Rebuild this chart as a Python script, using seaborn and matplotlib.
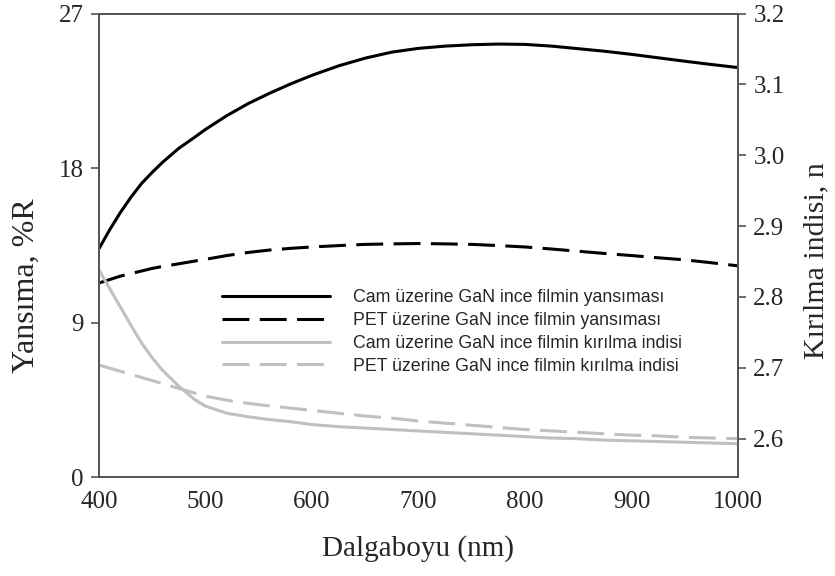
import numpy as np
import pandas as pd
import matplotlib
matplotlib.use("Agg")
import matplotlib.pyplot as plt
import seaborn as sns

# ---- data ----
wl_R = [400, 410, 420, 430, 440, 450, 460, 475, 490, 500, 520, 540, 560, 580, 600, 625, 650,
        675, 700, 725, 750, 775, 800, 825, 850, 875, 900, 925, 950, 975, 1000]
cam_R = [13.3, 14.4, 15.4, 16.3, 17.1, 17.75, 18.35, 19.15, 19.8, 20.25, 21.05, 21.75, 22.35,
         22.9, 23.4, 23.95, 24.4, 24.75, 24.97, 25.1, 25.18, 25.22, 25.2, 25.1, 24.95, 24.8,
         24.62, 24.42, 24.22, 24.03, 23.85]
pet_R = [11.3, 11.5, 11.7, 11.85, 12.0, 12.15, 12.27, 12.42, 12.58, 12.68, 12.9, 13.08, 13.22,
         13.32, 13.4, 13.48, 13.55, 13.58, 13.6, 13.58, 13.55, 13.48, 13.4, 13.28, 13.15, 13.02,
         12.9, 12.77, 12.65, 12.48, 12.3]

wl_cam_n = [400, 410, 420, 430, 440, 450, 460, 475, 490, 500, 520, 540, 560, 580, 600, 625,
            650, 675, 700, 725, 750, 775, 800, 825, 850, 875, 900, 925, 950, 975, 1000]
cam_n = [2.838, 2.812, 2.786, 2.760, 2.735, 2.714, 2.696, 2.674, 2.655, 2.646, 2.636, 2.631,
         2.627, 2.624, 2.620, 2.617, 2.615, 2.613, 2.611, 2.609, 2.607, 2.605, 2.603, 2.601,
         2.600, 2.598, 2.597, 2.596, 2.595, 2.594, 2.593]

wl_pet_n = [400, 425, 450, 475, 500, 525, 550, 575, 600, 625, 650, 675, 700, 725, 750, 775,
            800, 825, 850, 875, 900, 925, 950, 975, 1000]
pet_n = [2.704, 2.693, 2.682, 2.671, 2.660, 2.653, 2.648, 2.644, 2.640, 2.636, 2.632, 2.629,
         2.625, 2.622, 2.619, 2.616, 2.613, 2.611, 2.609, 2.607, 2.605, 2.604, 2.602, 2.601, 2.600]

labels = ["Cam üzerine GaN ince filmin yansıması",
          "PET üzerine GaN ince filmin yansıması",
          "Cam üzerine GaN ince filmin kırılma indisi",
          "PET üzerine GaN ince filmin kırılma indisi"]

x_ticks = [400, 500, 600, 700, 800, 900, 1000]
yl_ticks = [0, 9, 18, 27]
yr_ticks = [2.6, 2.7, 2.8, 2.9, 3.0, 3.1, 3.2]

sns.set_style("white")
plt.rcParams["font.family"] = ["Liberation Serif", "DejaVu Serif"]

fig = plt.figure(figsize=(8.35, 5.76), dpi=100)
ax = fig.add_axes([99/835, 1-477/576, (738-99)/835, (477-13.5)/576])
ax2 = ax.twinx()

black = "#000000"
gray = "#c0c0c0"
lw = 2.2
dash = [8.8, 3.4]

dfR = pd.DataFrame({"wl": wl_R, "cam": cam_R, "pet": pet_R})
dfcn = pd.DataFrame({"wl": wl_cam_n, "n": cam_n})
dfpn = pd.DataFrame({"wl": wl_pet_n, "n": pet_n})

sns.lineplot(data=dfR, x="wl", y="cam", ax=ax, color=black, lw=lw, legend=False)
sns.lineplot(data=dfR, x="wl", y="pet", ax=ax, color=black, lw=lw, legend=False)
ax.lines[1].set_dashes(dash)
sns.lineplot(data=dfcn, x="wl", y="n", ax=ax2, color=gray, lw=lw, legend=False)
sns.lineplot(data=dfpn, x="wl", y="n", ax=ax2, color=gray, lw=lw, legend=False)
ax2.lines[1].set_dashes(dash)

ax.set_xlim(400, 1000)
ax.set_ylim(0, 27)
ax2.set_ylim(2.546, 3.2)
ax.set_xticks(x_ticks)
ax.set_yticks(yl_ticks)
ax2.set_yticks(yr_ticks)
ax2.set_yticklabels([f"{v:.1f}" for v in yr_ticks])

spine_c = "#555555"
for a in (ax, ax2):
    for s in a.spines.values():
        s.set_color(spine_c)
        s.set_linewidth(1.3)
        s.set_visible(True)
ax.tick_params(axis="x", direction="out", length=6, width=1.2, color=spine_c, labelsize=18, pad=4)
ax.tick_params(axis="y", direction="out", length=6, width=1.2, color=spine_c, labelsize=18, pad=5, left=True)
ax2.tick_params(axis="y", direction="out", length=6, width=1.2, color=spine_c, labelsize=18, pad=5, right=True)

ax.set_xlabel("Dalgaboyu (nm)", fontsize=21, labelpad=16)
ax.set_ylabel("Yansıma, %R", fontsize=23)
ax2.set_ylabel("Kırılma indisi, n", fontsize=21.5)
ax.yaxis.set_label_coords((41 - 99) / 639, (477 - 286) / 463.5)
ax2.yaxis.set_label_coords((803 - 99) / 639, (477 - 261) / 463.5)

handles = ax.lines[:2] + ax2.lines[:2]
leg = ax2.legend(handles, labels, loc="upper left", bbox_to_anchor=(222/835, 1-289/576),
                 bbox_transform=fig.transFigure, frameon=False, borderpad=0, borderaxespad=0,
                 handlelength=6.07, handletextpad=1.3, labelspacing=0.33,
                 prop={"family": ["Liberation Sans", "DejaVu Sans"], "size": 12.8})

fig.savefig("out.png", dpi=100)
